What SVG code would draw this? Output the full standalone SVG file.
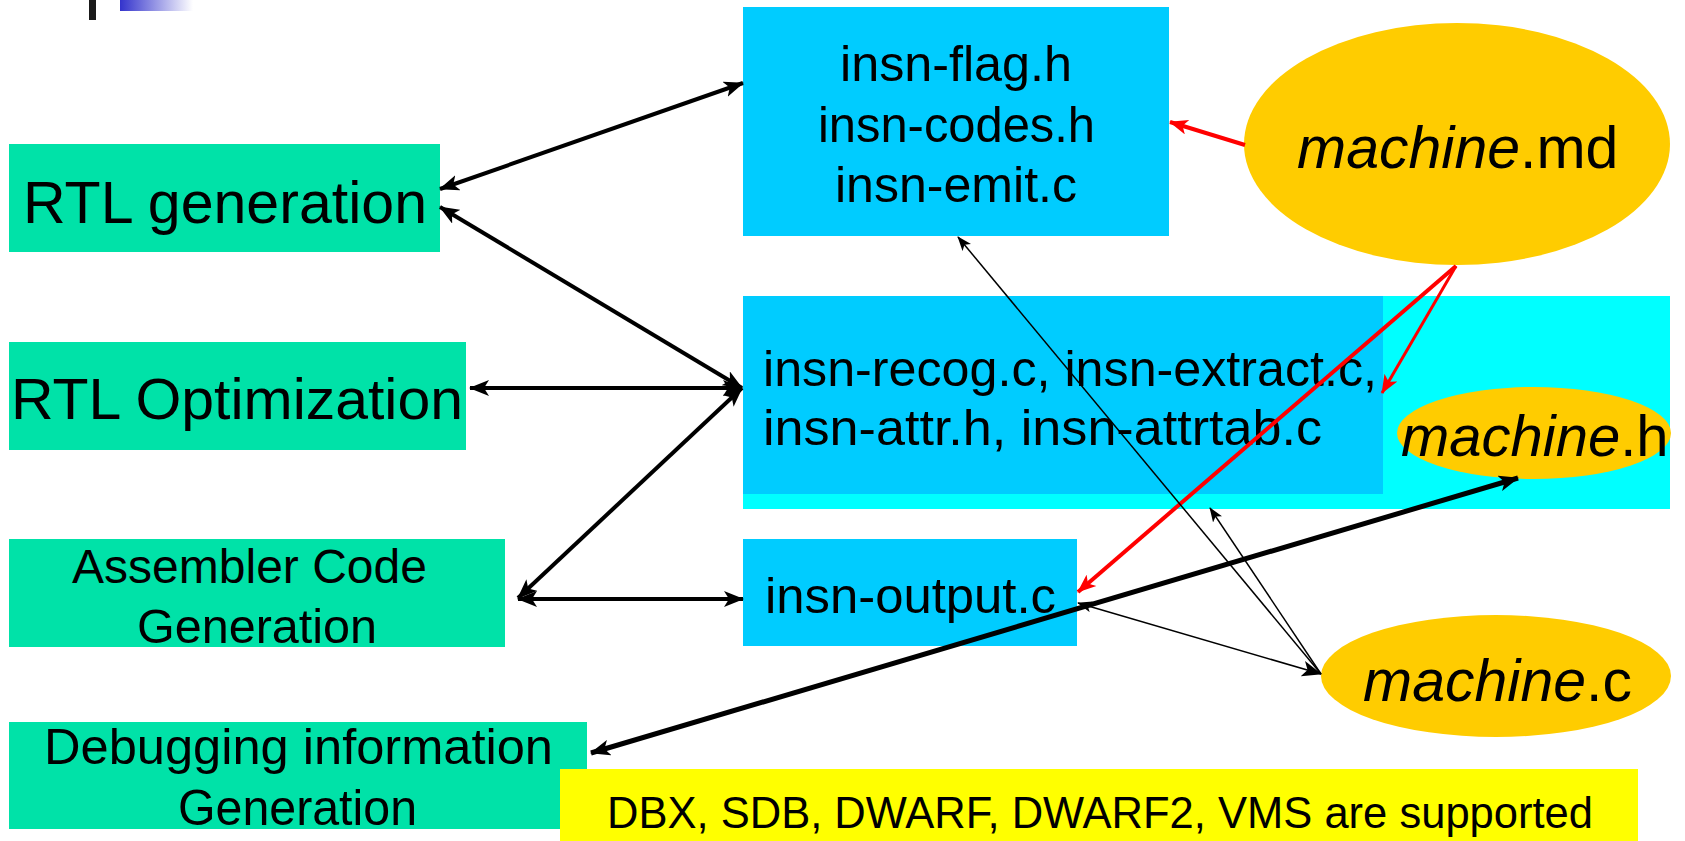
<svg xmlns="http://www.w3.org/2000/svg" width="1685" height="841" viewBox="0 0 1685 841">
  <style>
    text { font-family: "Liberation Sans", Arial, sans-serif; fill: #000; }
    .step { fill: #00E2A8; }
    .file { fill: #00CCFF; }
    .src { fill: #FFCC00; }
    .thick { stroke: #000; stroke-width: 4; fill: none; }
    .heavy { stroke: #000; stroke-width: 5; fill: none; }
    .thin { stroke: #000; stroke-width: 1.5; fill: none; }
    .red { stroke: #FF0000; stroke-width: 4; fill: none; }
    .redthin { stroke: #FF0000; stroke-width: 3; fill: none; }
  </style>
  <defs>
    <linearGradient id="barFade" x1="0" y1="0" x2="1" y2="0">
      <stop offset="0" stop-color="#3333CC"/>
      <stop offset="1" stop-color="#FFFFFF"/>
    </linearGradient>
    <marker id="ah" viewBox="0 0 20 16" refX="19" refY="8" markerWidth="20" markerHeight="16" markerUnits="userSpaceOnUse" orient="auto-start-reverse">
      <path d="M0,0 L20,8 L0,16 L5,8 Z" fill="#000"/>
    </marker>
    <marker id="ahs" viewBox="0 0 16 12" refX="15" refY="6" markerWidth="15" markerHeight="11" markerUnits="userSpaceOnUse" orient="auto-start-reverse">
      <path d="M0,0 L16,6 L0,12 L4,6 Z" fill="#000"/>
    </marker>
    <marker id="ahr" viewBox="0 0 20 16" refX="19" refY="8" markerWidth="20" markerHeight="15" markerUnits="userSpaceOnUse" orient="auto-start-reverse">
      <path d="M0,0 L20,8 L0,16 L5,8 Z" fill="#FF0000"/>
    </marker>
  </defs>

  <rect width="1685" height="841" fill="#FFFFFF"/>

  <!-- title bar ornament -->
  <rect x="89" y="0" width="7" height="20" fill="#1A1A1A"/>
  <rect x="120" y="0" width="73" height="11" fill="url(#barFade)"/>

  <g id="rtl-generation">
    <rect class="step" x="9" y="144" width="431" height="108"/>
    <text x="23" y="223" font-size="59" textLength="404" lengthAdjust="spacingAndGlyphs">RTL generation</text>
  </g>

  <g id="rtl-optimization">
    <rect class="step" x="9" y="342" width="457" height="108"/>
    <text x="11" y="419" font-size="58" textLength="452" lengthAdjust="spacingAndGlyphs">RTL Optimization</text>
  </g>

  <g id="assembler-code">
    <rect class="step" x="9" y="539" width="496" height="108"/>
    <text x="72" y="583" font-size="48" textLength="355" lengthAdjust="spacingAndGlyphs">Assembler Code</text>
    <text x="137" y="643" font-size="48" textLength="240" lengthAdjust="spacingAndGlyphs">Generation</text>
  </g>

  <g id="debugging-info">
    <rect class="step" x="9" y="722" width="578" height="107"/>
    <text x="44" y="764" font-size="50" textLength="509" lengthAdjust="spacingAndGlyphs">Debugging information</text>
    <text x="178" y="825" font-size="50" textLength="239" lengthAdjust="spacingAndGlyphs">Generation</text>
  </g>

  <g id="supported-formats">
    <rect x="560" y="769" width="1078" height="72" fill="#FFFF00"/>
    <text x="607" y="828" font-size="45" textLength="986" lengthAdjust="spacingAndGlyphs">DBX, SDB, DWARF, DWARF2, VMS are supported</text>
  </g>

  <g id="insn-headers">
    <rect class="file" x="743" y="7" width="426" height="229"/>
    <text x="840" y="81" font-size="50" textLength="232" lengthAdjust="spacingAndGlyphs">insn-flag.h</text>
    <text x="818" y="142" font-size="50" textLength="277" lengthAdjust="spacingAndGlyphs">insn-codes.h</text>
    <text x="835" y="202" font-size="50" textLength="242" lengthAdjust="spacingAndGlyphs">insn-emit.c</text>
  </g>

  <g id="insn-recog">
    <rect x="743" y="296" width="927" height="213" fill="#00FFFF"/>
    <rect class="file" x="743" y="296" width="640" height="198"/>
    <text x="763" y="386" font-size="50" textLength="614" lengthAdjust="spacingAndGlyphs">insn-recog.c, insn-extract.c,</text>
    <text x="763" y="445" font-size="50" textLength="559" lengthAdjust="spacingAndGlyphs">insn-attr.h, insn-attrtab.c</text>
  </g>

  <g id="machine-h">
    <ellipse class="src" cx="1534" cy="433" rx="137" ry="46"/>
    <text x="1401" y="456" font-size="58"><tspan font-style="italic">machine</tspan>.h</text>
  </g>

  <g id="insn-output">
    <rect class="file" x="743" y="539" width="334" height="107"/>
    <text x="765" y="613" font-size="50" textLength="291" lengthAdjust="spacingAndGlyphs">insn-output.c</text>
  </g>

  <g id="machine-md">
    <ellipse class="src" cx="1457" cy="144" rx="213" ry="121"/>
    <text x="1297" y="168" font-size="59"><tspan font-style="italic">machine</tspan>.md</text>
  </g>

  <g id="machine-c">
    <ellipse class="src" cx="1496" cy="676" rx="175" ry="61"/>
    <text x="1363" y="701" font-size="59"><tspan font-style="italic">machine</tspan>.c</text>
  </g>

  <g id="connectors">
    <!-- compiler passes and generated files -->
    <line class="thick" x1="440" y1="189" x2="743" y2="83" marker-start="url(#ah)" marker-end="url(#ah)"/>
    <line class="thick" x1="440" y1="207" x2="742" y2="388" marker-start="url(#ah)" marker-end="url(#ah)"/>
    <line class="thick" x1="470" y1="388" x2="742" y2="388" marker-start="url(#ah)" marker-end="url(#ah)"/>
    <line class="thick" x1="518" y1="598" x2="742" y2="388" marker-start="url(#ah)" marker-end="url(#ah)"/>
    <line class="thick" x1="518" y1="599" x2="743" y2="599" marker-start="url(#ah)" marker-end="url(#ah)"/>
    <line class="heavy" x1="591" y1="753" x2="1518" y2="478" marker-start="url(#ah)" marker-end="url(#ah)"/>

    <!-- machine description feeds generators -->
    <line class="red" x1="1245" y1="145" x2="1170" y2="122" marker-end="url(#ahr)"/>
    <line class="red" x1="1456" y1="266" x2="1078" y2="592" marker-end="url(#ahr)"/>
    <line class="redthin" x1="1456" y1="266" x2="1382" y2="393" marker-end="url(#ahr)"/>

    <!-- machine.c references -->
    <line class="thin" x1="1321" y1="674" x2="958" y2="237" marker-end="url(#ahs)"/>
    <line class="thin" x1="1321" y1="674" x2="1210" y2="508" marker-end="url(#ahs)"/>
    <line class="thin" x1="1078" y1="603" x2="1321" y2="674" marker-start="url(#ahs)" marker-end="url(#ah)"/>
  </g>
</svg>
